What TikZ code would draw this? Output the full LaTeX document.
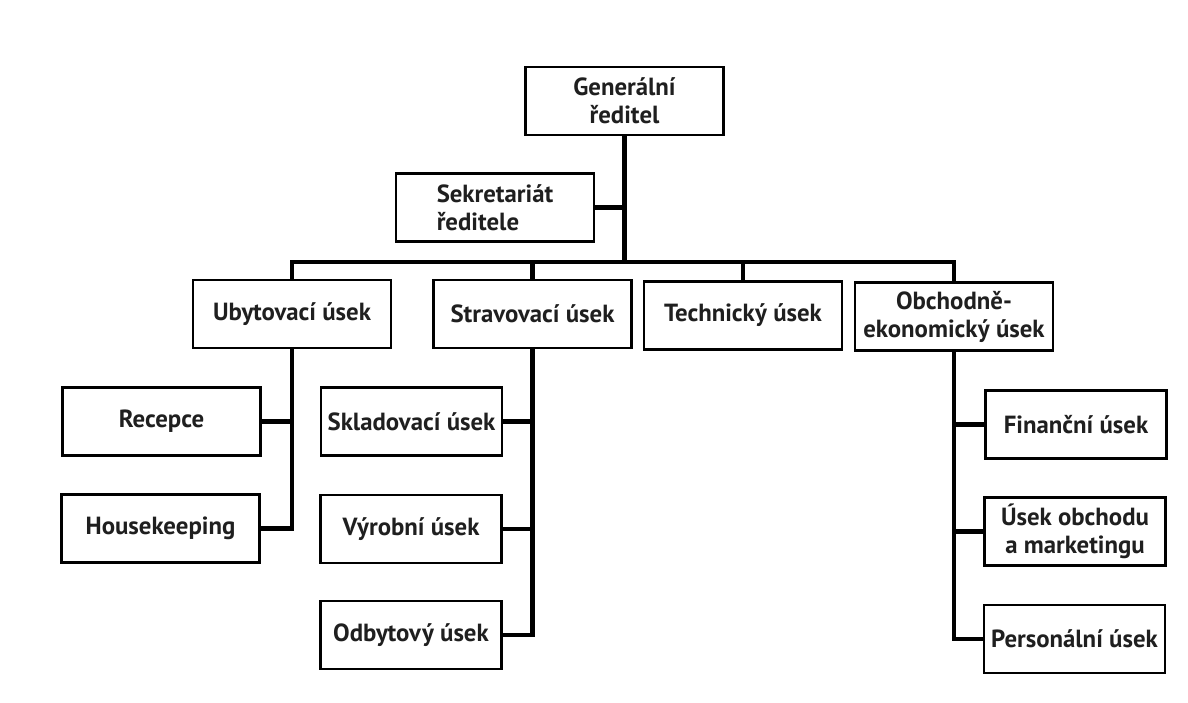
\documentclass[tikz,border=0pt]{standalone}
\usepackage{fontspec}
\setmainfont{PT Sans}
\begin{document}
\begin{tikzpicture}[x=0.5pt,y=-0.5pt,
  unit/.style={draw=black, line width=1.1pt, fill=white, inner sep=0pt,
    font=\fontsize{12.4}{14}\selectfont\bfseries, text=black!88,
    align=center, minimum height=34pt},
  wide/.style={unit, minimum width=99pt},
  narrow/.style={unit, minimum width=90.5pt},
  link/.style={draw=black, line width=2.4pt, line join=miter, line cap=rect}]
  \useasboundingbox[fill=white] (0,0) rectangle (1188,702);

  % top management
  \node[wide] (gr)  at (624.5,101)   {Generální\\ředitel};
  \node[wide, align=left] (sek) at (495,207.5) {Sekretariát\\ředitele};

  % divisions
  \node[wide] (uby)  at (292,314)    {Ubytovací úsek};
  \node[wide] (stra) at (532.5,314)  {Stravovací úsek};
  \node[wide] (tech) at (743,315.5)  {Technický úsek};
  \node[wide] (obch) at (954,316.5)  {Obchodně-\\ekonomický úsek};

  % accommodation departments
  \node[wide] (rec) at (161.5,421.5) {Recepce};
  \node[wide] (hk)  at (160.5,528.5) {Housekeeping};

  % catering departments
  \node[narrow] (skl) at (411.5,421.5) {Skladovací úsek};
  \node[narrow] (vyr) at (411,529)     {Výrobní úsek};
  \node[narrow] (odb) at (411,635)     {Odbytový úsek};

  % business and economic departments
  \node[narrow] (fin) at (1076,424.5)  {Finanční úsek};
  \node[narrow] (obm) at (1075,531.5)  {Úsek obchodu\\a marketingu};
  \node[narrow] (per) at (1074.5,639)  {Personální úsek};

  % main bus
  \coordinate (busL) at (292,262);
  \coordinate (busR) at (954,262);
  \draw[link] (uby.north) -- (busL) -- (busR) -- (obch.north);
  \draw[link] (gr.south) -- (gr.south |- busL);
  \draw[link] (sek.east) -- (sek.east -| gr.south);
  \draw[link] (stra.north) -- (stra.north |- busL);
  \draw[link] (tech.north) -- (tech.north |- busL);

  % accommodation branch
  \draw[link] (uby.south) |- (hk.east);
  \draw[link] (rec.east) -- (rec.east -| uby.south);

  % catering branch
  \draw[link] (stra.south) |- (odb.east);
  \draw[link] (skl.east) -- (skl.east -| stra.south);
  \draw[link] (vyr.east) -- (vyr.east -| stra.south);

  % business branch
  \draw[link] (obch.south) |- (per.west);
  \draw[link] (fin.west) -- (fin.west -| obch.south);
  \draw[link] (obm.west) -- (obm.west -| obch.south);
\end{tikzpicture}
\end{document}
